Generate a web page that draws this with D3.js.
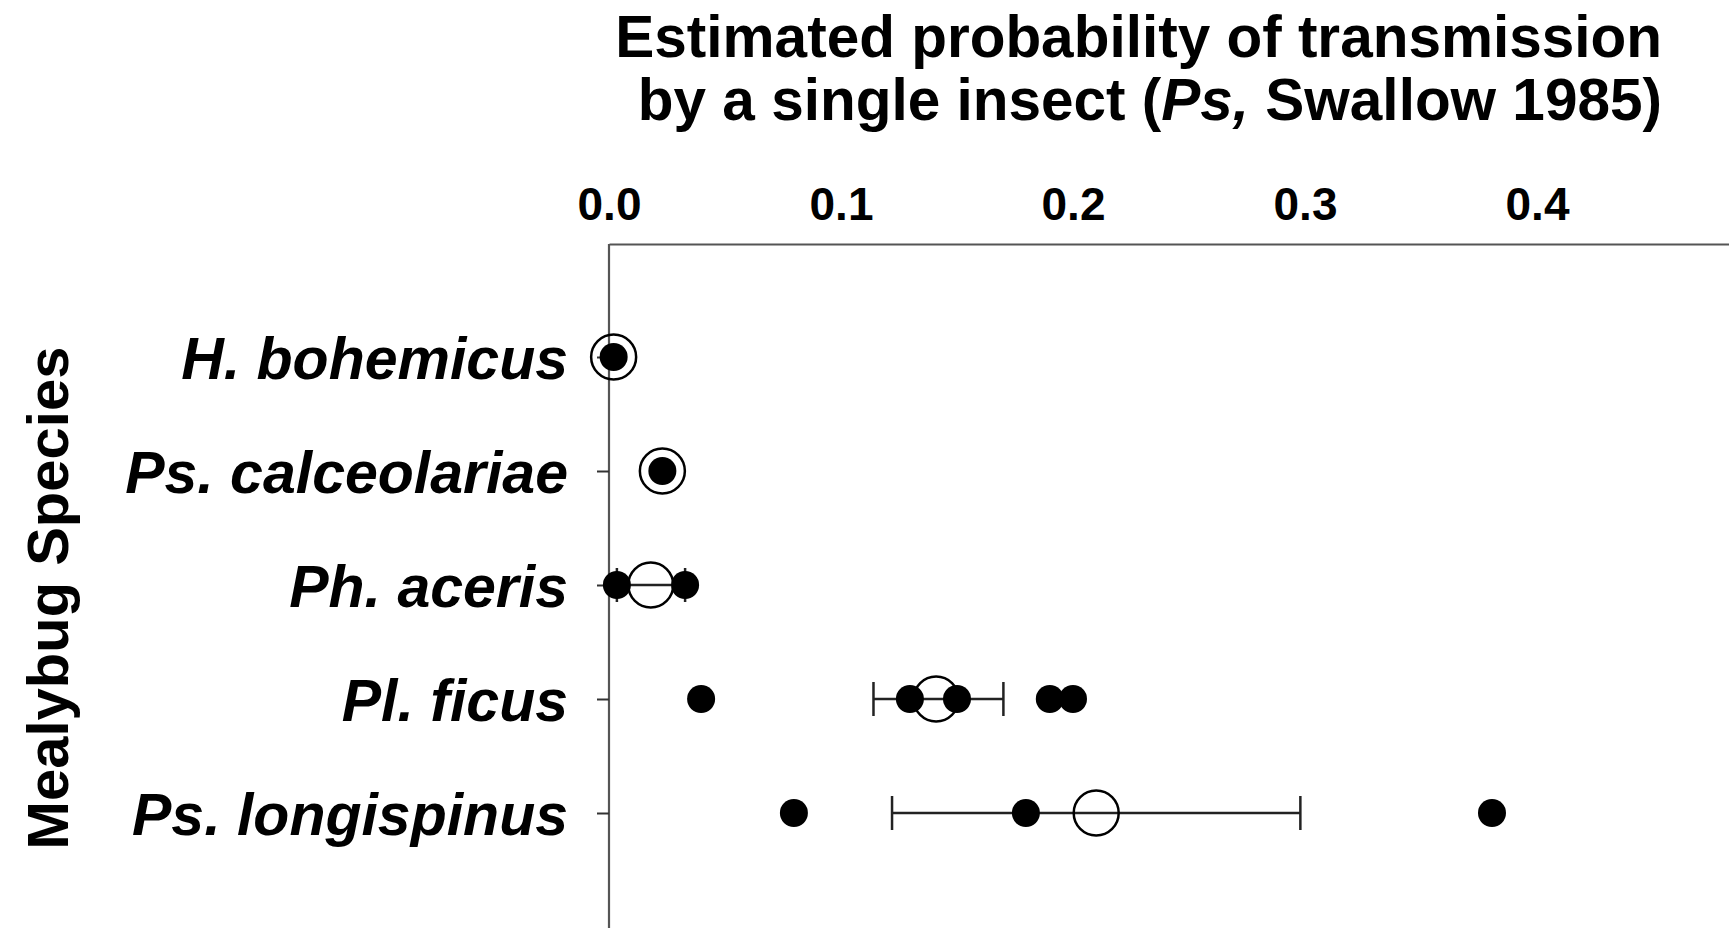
<!DOCTYPE html>
<html>
<head>
<meta charset="utf-8">
<script src="https://cdn.jsdelivr.net/npm/d3@7"></script>
<style>
  html, body { margin: 0; padding: 0; background: #fff; }
  svg { display: block; }
  text { font-family: "Liberation Sans", Arial, sans-serif; }
</style>
</head>
<body>
<svg id="chart" width="1729" height="928"></svg>
<script>
// ---- data ----
const categories = ["H. bohemicus", "Ps. calceolariae", "Ph. aceris", "Pl. ficus", "Ps. longispinus"];
const meanValues = [0.002, 0.023, 0.018, 0.141, 0.210];
const errLow  = [null, null, 0.0034, 0.114, 0.122];
const errHigh = [null, null, 0.0328, 0.170, 0.298];
const obsBohemicus    = [0.002];
const obsCalceolariae = [0.023];
const obsAceris       = [0.0034, 0.0328];
const obsFicus        = [0.0397, 0.1297, 0.150, 0.190, 0.200];
const obsLongispinus  = [0.0797, 0.1797, 0.3806];
const observations = [obsBohemicus, obsCalceolariae, obsAceris, obsFicus, obsLongispinus];
const xTickValues = [0, 0.1, 0.2, 0.3, 0.4];
const titleLine1 = "Estimated probability of transmission";
const yTitle = "Mealybug Species";

// ---- layout ----
const svg = d3.select("#chart");
const plotLeft = 609, plotTop = 244;
const x = d3.scaleLinear().domain([0, 0.5]).range([plotLeft, plotLeft + 5 * 232]);
const y = d3.scalePoint().domain(categories).range([357, 813]);

// frame
svg.append("line").attr("x1", plotLeft).attr("x2", plotLeft).attr("y1", plotTop).attr("y2", 940)
  .attr("stroke", "#555").attr("stroke-width", 2.2);

// x axis (top)
const xAxis = svg.append("g").attr("transform", `translate(0,${plotTop})`)
  .call(d3.axisTop(x).tickValues(xTickValues).tickFormat(d3.format(".1f"))
    .tickSize(0).tickSizeOuter(0).tickPadding(24));
xAxis.select(".domain").attr("stroke", "#555").attr("stroke-width", 2.2);
xAxis.selectAll("text").attr("font-size", 46).attr("font-weight", "bold")
  .attr("fill", "#000").style("font-family", '"Liberation Sans", Arial, sans-serif');

// y axis (left)
const yAxis = svg.append("g").attr("transform", `translate(${plotLeft},0)`)
  .call(d3.axisLeft(y).tickSize(12).tickPadding(29));
yAxis.select(".domain").remove();
yAxis.selectAll(".tick line").attr("stroke", "#333").attr("stroke-width", 2);
yAxis.selectAll("text").attr("font-size", 59).attr("font-weight", "bold")
  .attr("font-style", "italic").attr("fill", "#000").attr("dy", "0.36em")
  .style("font-family", '"Liberation Sans", Arial, sans-serif');

// titles
svg.append("text").attr("x", 1662).attr("y", 57).attr("text-anchor", "end")
  .attr("font-size", 58.5).attr("font-weight", "bold").text(titleLine1);
const t2 = svg.append("text").attr("x", 1662).attr("y", 120).attr("text-anchor", "end")
  .attr("font-size", 58.5).attr("font-weight", "bold");
t2.append("tspan").text("by a single insect (");
t2.append("tspan").attr("font-style", "italic").text("Ps,");
t2.append("tspan").text(" Swallow 1985)");

svg.append("text").attr("transform", "translate(68,598) rotate(-90)")
  .attr("text-anchor", "middle").attr("font-size", 58).attr("font-weight", "bold")
  .text(yTitle);

// error bars
const capH = 17;
const eb = svg.append("g").attr("stroke", "#222").attr("stroke-width", 2.5);
categories.forEach((c, i) => {
  if (errLow[i] == null) return;
  const cy = y(c);
  eb.append("line").attr("x1", x(errLow[i])).attr("x2", x(errHigh[i])).attr("y1", cy).attr("y2", cy);
  eb.append("line").attr("x1", x(errLow[i])).attr("x2", x(errLow[i])).attr("y1", cy - capH).attr("y2", cy + capH);
  eb.append("line").attr("x1", x(errHigh[i])).attr("x2", x(errHigh[i])).attr("y1", cy - capH).attr("y2", cy + capH);
});

// mean (open circles)
svg.append("g").selectAll("circle").data(categories).join("circle")
  .attr("cx", (c, i) => x(meanValues[i])).attr("cy", c => y(c)).attr("r", 22.5)
  .attr("fill", "none").attr("stroke", "#000").attr("stroke-width", 2.5);

// observations (filled)
const obsFlat = [];
categories.forEach((c, i) => observations[i].forEach(v => obsFlat.push({c, v})));
svg.append("g").selectAll("circle").data(obsFlat).join("circle")
  .attr("cx", d => x(d.v)).attr("cy", d => y(d.c)).attr("r", 14).attr("fill", "#000");
</script>
</body>
</html>
